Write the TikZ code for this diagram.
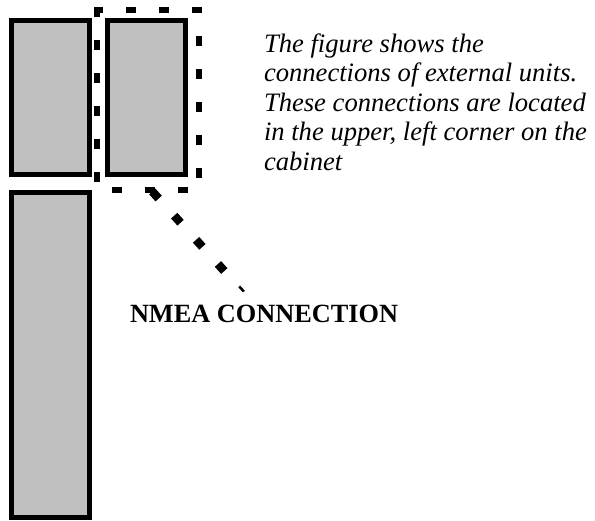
\documentclass[tikz,border=0pt]{standalone}
\usepackage{fontspec}
\setmainfont{Liberation Serif}
\definecolor{panelgray}{HTML}{C0C0C0}
\begin{document}
\begin{tikzpicture}[x=1pt,y=-1pt,
  panel/.style={draw=black,fill=panelgray,line width=5pt,inner sep=0pt,outer sep=0pt},
  zone/.style={draw=black,line width=5.5pt,dash pattern=on 4.5pt off 28.5pt,line cap=rect},
  leader/.style={draw=black,line width=8.5pt,dash pattern=on 9.5pt off 23.1pt},
  leadertip/.style={draw=black,line width=2.5pt},
  note/.style={inner sep=0pt,outer sep=0pt,anchor=base west}]
\useasboundingbox (0,0) rectangle (595,520);

% cabinet panels
\node[panel,minimum width=78pt,minimum height=154pt] (p1) at (50.5,97.5) {};
\node[panel,minimum width=78pt,minimum height=154pt] (p2) at (146.5,97.5) {};
\node[panel,minimum width=78pt,minimum height=325pt] (p3) at (50.5,355) {};

% dashed frame round the connection panel
\draw[zone] (97,10) -- (97,190) -- (199,190) -- (199,10) -- cycle;

% description
\node[note] (desc) at (264,52) {\parbox[t]{340pt}{\fontsize{26.6}{29.5}\selectfont\itshape\raggedright
The figure shows the\\
connections of external units.\\
These connections are located\\
in the upper, left corner on the\\
cabinet}};

% label and its leader
\node[note] (nmea) at (130,322) {\fontsize{26.3}{30}\selectfont\bfseries NMEA CONNECTION};
\coordinate (ldA) at (152.3,191.5);
\coordinate (ldM) at (224.3,271);
\coordinate (ldN) at (239.2,286.4);
\coordinate (ldB) at (243.9,291.6);
\draw[leader] (ldA) -- (ldM);
\draw[leadertip] (ldN) -- (ldB);
\end{tikzpicture}
\end{document}
